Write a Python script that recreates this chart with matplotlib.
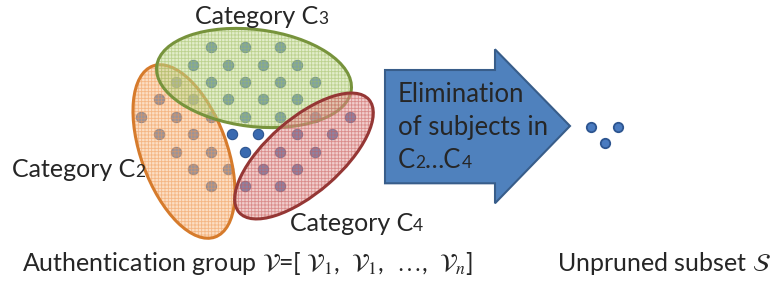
import matplotlib
matplotlib.use("Agg")
import matplotlib.pyplot as plt
from matplotlib.patches import Ellipse, Polygon

plt.rcParams['font.family'] = ['Lato', 'DejaVu Sans']
plt.rcParams['mathtext.fontset'] = 'stix'
plt.rcParams['hatch.linewidth'] = 0.6

# subjects of the authentication group (pixel positions)
dot_x = [210.7, 245.3, 280,
         193.3, 228.3, 262.7, 297.3,
         176, 210.7, 245.3, 280, 315,
         158.7, 193.3, 228.3, 262.7, 297.3,
         141.3, 176, 210.7, 245.3, 280, 315, 350,
         158.7, 193.3, 232, 258.3, 297.3, 332.3,
         176, 210.7, 245.3, 280, 315,
         193.3, 228.3, 262.7, 297.3,
         210.7, 245.3, 280]
dot_y = [46.7] * 3 + [64.5] * 4 + [81.7] * 5 + [99.3] * 5 + [116.7] * 7 + \
        [134.3] * 6 + [151.7] * 5 + [169] * 4 + [186] * 3

# unpruned subset S
sub_x = [590.7, 617.7, 605.3]
sub_y = [127.3, 127.3, 143.3]

# categories: centre, full width, full height, angle, fill, hatch, edge
cat_names = ['C2', 'C3', 'C4']
cat_cx = [184, 254, 304]
cat_cy = [151.5, 78, 156]
cat_w = [182, 196, 172]
cat_h = [86, 97, 74]
cat_ang = [70, 7, -41]
cat_fill = ['#FBBE88', '#C6DC97', '#E59C9A']
cat_hatch = ['#EE9550', '#9DBB5E', '#C65855']
cat_edge = ['#D67B2C', '#77933C', '#953735']

fig = plt.figure(figsize=(7.78, 2.87), dpi=100)
ax = fig.add_axes([0, 0, 1, 1])
ax.set_xlim(0, 778)
ax.set_ylim(287, 0)
ax.axis('off')

ax.scatter(dot_x, dot_y, s=55, color='#3A6AB0', edgecolor='#2D5590', linewidth=0.8, zorder=1)
ax.scatter(sub_x, sub_y, s=46, color='#4A7BC0', edgecolor='#2D5590', linewidth=1.3, zorder=1)

for i in range(3):
    z = 2 + i
    ax.add_patch(Ellipse((cat_cx[i], cat_cy[i]), cat_w[i], cat_h[i], angle=cat_ang[i],
                         facecolor=cat_fill[i], edgecolor='none', alpha=0.5, zorder=z))
    ax.add_patch(Ellipse((cat_cx[i], cat_cy[i]), cat_w[i], cat_h[i], angle=cat_ang[i],
                         facecolor='none', edgecolor=cat_hatch[i], hatch='+++++',
                         linewidth=0, alpha=0.55, zorder=z))
    ax.add_patch(Ellipse((cat_cx[i], cat_cy[i]), cat_w[i], cat_h[i], angle=cat_ang[i],
                         facecolor='none', edgecolor=cat_edge[i], linewidth=2.2, zorder=z))

# block arrow
arrow = Polygon([(385, 70), (495, 70), (495, 49.3), (570, 126), (495, 203.3),
                 (495, 183.3), (385, 183.3)], closed=True,
                facecolor='#4F81BD', edgecolor='#385D8A', linewidth=1.5, zorder=5)
ax.add_patch(arrow)

txt = '#262626'
renderer = fig.canvas.get_renderer()


def put(x, y, parts):
    for s, size in parts:
        t = ax.text(x, y, s, fontsize=size, color=txt, ha='left', va='baseline', zorder=6)
        x += t.get_window_extent(renderer).width


put(195, 24, [('Category C', 18), ('3', 12.5)])
put(11.7, 176.7, [('Category C', 18), ('2', 12.5)])
put(290, 231, [('Category C', 18), ('4', 12.5)])

put(398, 101.7, [('Elimination', 18.5)])
put(398, 135, [('of subjects in', 18.5)])
put(398, 168.3, [('C', 18.5), ('2', 12.5), ('…C', 18.5), ('4', 12.5)])

ax.text(21.7, 270.7,
        r'Authentication group $\mathbf{\mathcal{V}}$=[ $\mathcal{V}_{1}$,  $\mathcal{V}_{1}$,  $\ldots$,  $\mathcal{V}_{n}$]',
        fontsize=18, color=txt, ha='left', va='baseline')
ax.text(556.7, 270.7, r'Unpruned subset $\mathcal{S}$',
        fontsize=18, color=txt, ha='left', va='baseline')

fig.savefig('out.png', dpi=100)
